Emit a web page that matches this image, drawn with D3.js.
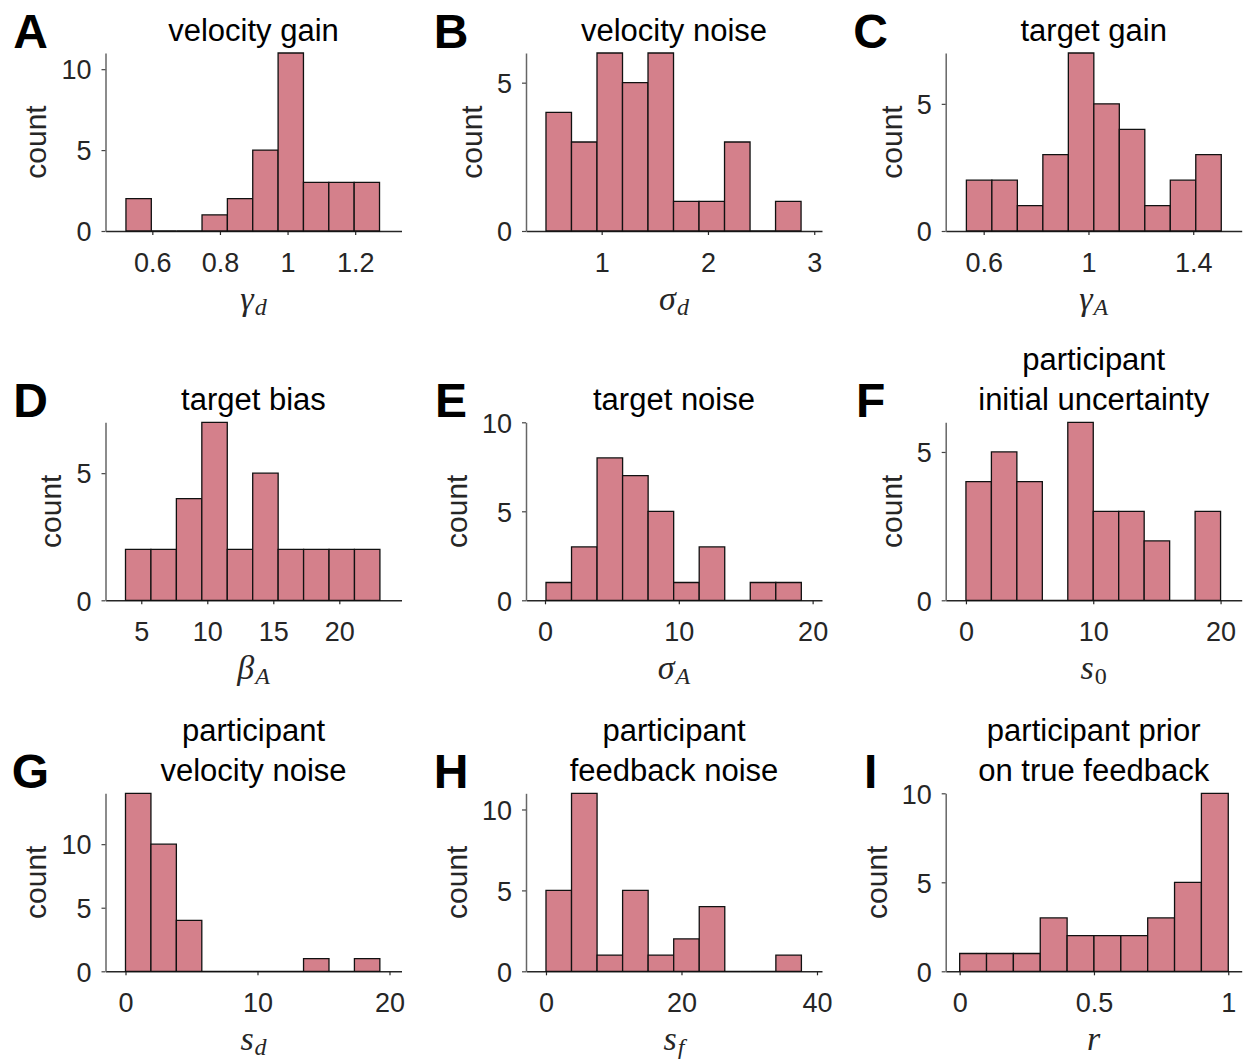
<!DOCTYPE html>
<html>
<head>
<meta charset="utf-8">
<script src="https://cdn.jsdelivr.net/npm/d3@7"></script>
<style>
  body { margin: 0; background: #fff; }
  svg text { font-family: "Liberation Sans", Arial, Helvetica, sans-serif; }
</style>
</head>
<body>
<div id="chart"></div>
<script>
// panel content
const panelLetters = ["A", "B", "C", "D", "E", "F", "G", "H", "I"];
const panelTitles = [
  ["velocity gain"], ["velocity noise"], ["target gain"],
  ["target bias"], ["target noise"], ["participant", "initial uncertainty"],
  ["participant", "velocity noise"], ["participant", "feedback noise"], ["participant prior", "on true feedback"]
];
const xSymbols = ["γ", "σ", "γ", "β", "σ", "s", "s", "s", "r"];
const xSubscripts = ["d", "d", "A", "A", "A", "0", "d", "f", ""];

// histogram bins: first edge, bin width, counts per bin
const binStarts = [0.522, 0.476, 0.534, 3.805, 0.075, 0, 0, 0, 0];
const binWidths = [0.075, 0.24, 0.0973, 1.927, 1.908, 2, 1.927, 3.77, 0.1];
const counts = [
  [2, 0, 0, 1, 2, 5, 11, 3, 3, 3],
  [4, 3, 6, 5, 6, 1, 1, 3, 0, 1],
  [2, 2, 1, 3, 7, 5, 4, 1, 2, 3],
  [2, 2, 4, 7, 2, 5, 2, 2, 2, 2],
  [1, 3, 8, 7, 5, 1, 3, 0, 1, 1],
  [4, 5, 4, 0, 6, 3, 3, 2, 0, 3],
  [14, 10, 4, 0, 0, 0, 0, 1, 0, 1],
  [5, 11, 1, 5, 1, 2, 4, 0, 0, 1],
  [1, 1, 1, 3, 2, 2, 2, 3, 5, 10]
];

// axes
const xDomains = [
  [0.4615, 1.337], [0.288, 3.073], [0.455, 1.585],
  [2.29, 24.71], [-1.42, 20.7], [-1.59, 21.66],
  [-1.515, 20.91], [-2.95, 40.74], [-0.052, 1.05]
];
const yMax = [11, 6, 7, 7, 10, 6, 14, 11, 10];
const xTicks = [
  [0.6, 0.8, 1, 1.2], [1, 2, 3], [0.6, 1, 1.4],
  [5, 10, 15, 20], [0, 10, 20], [0, 10, 20],
  [0, 10, 20], [0, 20, 40], [0, 0.5, 1]
];
const yTicks = [
  [0, 5, 10], [0, 5], [0, 5],
  [0, 5], [0, 5, 10], [0, 5],
  [0, 5, 10], [0, 5, 10], [0, 5, 10]
];

const barColor = "#d4808b";
const textColor = "#262626";

const svgWidth = 1243;
const svgHeight = 1059;
const colLeft = [105.5, 526, 945.7];
const rowTop = [53, 422.3, 793.3];
const plotW = 296;
const plotH = 178;

const svg = d3.select("#chart")
  .append("svg")
  .attr("width", svgWidth)
  .attr("height", svgHeight);

panelLetters.forEach((letter, i) => {
  const g = svg.append("g")
    .attr("transform", `translate(${colLeft[i % 3]},${rowTop[Math.floor(i / 3)]})`);

  const x = d3.scaleLinear().domain(xDomains[i]).range([0, plotW]);
  const y = d3.scaleLinear().domain([0, yMax[i]]).range([plotH, 0]);

  // x axis
  const xAxisG = g.append("g")
    .attr("transform", `translate(0,${plotH})`)
    .call(d3.axisBottom(x)
      .tickValues(xTicks[i])
      .tickSize(4)
      .tickSizeOuter(0)
      .tickPadding(18)
      .tickFormat(d => String(d)));
  xAxisG.select(".domain").attr("stroke", "#262626").attr("stroke-width", 1.5);
  xAxisG.selectAll(".tick line").attr("stroke", "#262626").attr("stroke-width", 1.2);
  xAxisG.selectAll(".tick text")
    .attr("fill", textColor)
    .style("font-size", "27px");

  // y axis
  const yAxisG = g.append("g")
    .call(d3.axisLeft(y)
      .tickValues(yTicks[i])
      .tickSize(4)
      .tickSizeOuter(0)
      .tickPadding(10)
      .tickFormat(d => String(d)));
  yAxisG.select(".domain").attr("stroke", "#666").attr("stroke-width", 1.5);
  yAxisG.selectAll(".tick line").attr("stroke", "#444").attr("stroke-width", 1.2);
  yAxisG.selectAll(".tick text")
    .attr("fill", textColor)
    .attr("dy", "0.36em")
    .style("font-size", "27px");

  // bars (paths so empty bins still show their edge on the baseline)
  g.selectAll(".bar")
    .data(counts[i].map((c, k) => ({
      x0: binStarts[i] + k * binWidths[i],
      x1: binStarts[i] + (k + 1) * binWidths[i],
      c: c
    })))
    .enter()
    .append("path")
    .attr("class", "bar")
    .attr("d", d => `M${x(d.x0)},${y(0)}V${y(d.c)}H${x(d.x1)}V${y(0)}Z`)
    .attr("fill", barColor)
    .attr("stroke", "#111")
    .attr("stroke-width", 1.3);

  // y label, placed left of the widest tick label
  let labelW = 0;
  yAxisG.selectAll(".tick text").each(function () {
    labelW = Math.max(labelW, this.getComputedTextLength());
  });
  g.append("text")
    .attr("transform", `translate(${-(labelW + 29)},${plotH / 2}) rotate(-90)`)
    .attr("text-anchor", "middle")
    .attr("fill", textColor)
    .style("font-size", "30px")
    .text("count");

  // x label (math symbol with subscript)
  const xl = g.append("text")
    .attr("x", plotW / 2)
    .attr("y", plotH + 79)
    .attr("text-anchor", "middle")
    .attr("fill", textColor)
    .style("font-family", "'Liberation Serif', 'Times New Roman', serif")
    .style("font-style", "italic")
    .style("font-size", "34px");
  xl.append("tspan").text(xSymbols[i]);
  if (xSubscripts[i]) {
    xl.append("tspan")
      .attr("dx", 1)
      .attr("dy", 5)
      .style("font-size", "24px")
      .style("font-style", /[0-9]/.test(xSubscripts[i]) ? "normal" : "italic")
      .text(xSubscripts[i]);
  }

  // title
  const lines = panelTitles[i];
  lines.forEach((line, k) => {
    g.append("text")
      .attr("x", plotW / 2)
      .attr("y", -12 - (lines.length - 1 - k) * 40)
      .attr("text-anchor", "middle")
      .attr("fill", "#000")
      .style("font-size", "31px")
      .text(line);
  });

  // panel letter
  g.append("text")
    .attr("x", -75)
    .attr("y", -5)
    .attr("text-anchor", "middle")
    .attr("fill", "#000")
    .style("font-size", "48px")
    .style("font-weight", "bold")
    .text(letter);
});
</script>
</body>
</html>
